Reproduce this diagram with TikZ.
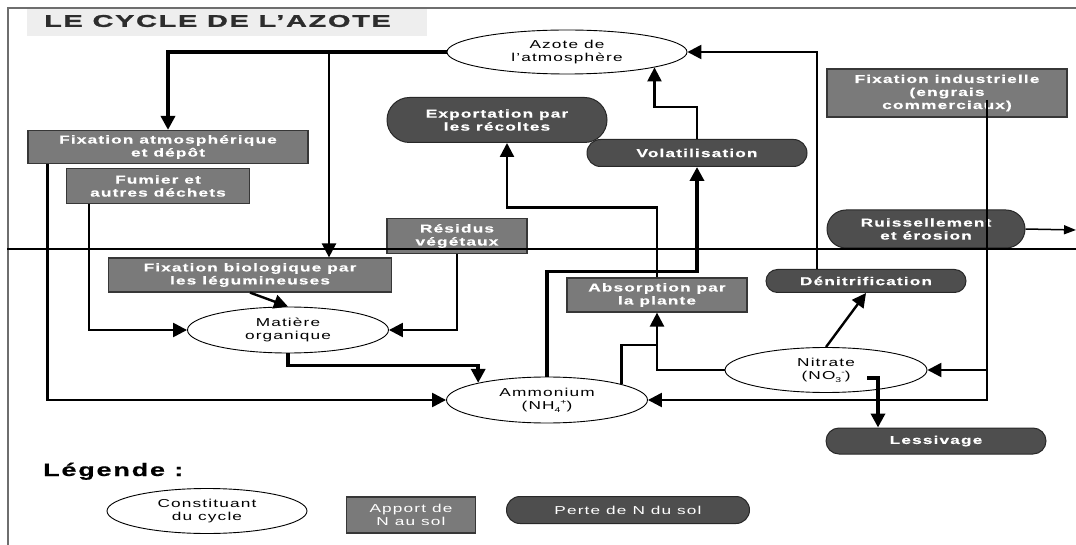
\documentclass[tikz,border=0pt]{standalone}
\usepackage{fontspec}
\setmainfont{Liberation Sans}[FakeStretch=1.5,LetterSpace=10,BoldFeatures={FakeBold=0.6}]
\newfontfamily\titlefont{Liberation Sans Bold}[FakeStretch=1.7,LetterSpace=10,FakeBold=1.5]
\usetikzlibrary{shapes.geometric,shapes.misc,arrows.meta,calc}
\definecolor{boxgray}{RGB}{122,122,122}
\definecolor{boxedge}{RGB}{55,55,55}
\definecolor{lossgray}{RGB}{78,78,78}
\definecolor{lossedge}{RGB}{40,40,40}
\definecolor{titlebg}{RGB}{238,238,238}
\definecolor{framegray}{RGB}{110,110,110}
\definecolor{titletext}{RGB}{45,45,45}
\newcommand\nf{\fontsize{11.5}{13}\selectfont}
\newcommand\nfb{\fontsize{11.5}{13}\selectfont\bfseries}
\newcommand\chem[2]{\raisebox{-0.45ex}{\fontsize{7}{7}\selectfont #1}\raisebox{0.85ex}{\fontsize{7}{7}\selectfont #2}}
\tikzset{
  ell/.style={ellipse, draw=black, line width=0.9pt, fill=white, inner sep=0pt, align=center, font=\nf},
  box/.style={rectangle, draw=boxedge, line width=1.2pt, fill=boxgray, text=white, inner sep=0pt, align=center, font=\nfb},
  loss/.style={rounded rectangle, draw=lossedge, line width=1pt, fill=lossgray, text=white, inner sep=0pt, align=center, font=\nfb},
  ln/.style={line width=2.4pt},
  thk/.style={line width=3.8pt},
  arr/.style={-{Triangle[length=14pt,width=14pt]}},
  sarr/.style={-{Triangle[length=12pt,width=9pt]}},
}
\begin{document}
\begin{tikzpicture}[x=1pt,y=-1pt]
\useasboundingbox (0,0) rectangle (1076,545);
% frame and title
\draw[framegray, line width=1.2pt] (8,545) -- (8,8) -- (1076,8);
\fill[titlebg] (27,9) rectangle (427,36);
\node[anchor=west, font=\titlefont\fontsize{17}{18}\selectfont, text=titletext, inner sep=0pt] (title) at (44,21) {LE CYCLE DE L’AZOTE};

% nodes
\node[ell, minimum width=240pt, minimum height=44pt] (azote) at (567,52) {Azote de\\l'atmosphère};
\node[loss, minimum width=220pt, minimum height=45pt] (export) at (497,120) {Exportation par\\les récoltes};
\node[loss, minimum width=220pt, minimum height=27pt] (volat) at (697,153) {Volatilisation};
\node[box, minimum width=240pt, minimum height=48pt] (fixind) at (947,93) {Fixation industrielle\\(engrais\\commerciaux)};
\node[box, minimum width=280pt, minimum height=33pt] (fixatm) at (168,147) {Fixation atmosphérique\\et dépôt};
\node[box, minimum width=183pt, minimum height=35pt] (fumier) at (158,186) {Fumier et\\autres déchets};
\node[box, minimum width=140pt, minimum height=35pt] (residus) at (457,236) {Résidus\\végétaux};
\node[box, minimum width=283pt, minimum height=34pt] (fixbio) at (250,275) {Fixation biologique par\\les légumineuses};
\node[ell, minimum width=201pt, minimum height=46pt] (matiere) at (288,330) {Matière\\organique};
\node[ell, minimum width=201pt, minimum height=46pt] (ammonium) at (547,400) {Ammonium\\(NH\chem{4}{+})};
\node[box, minimum width=180pt, minimum height=34pt] (absorb) at (657,295) {Absorption par\\la plante};
\node[loss, minimum width=198pt, minimum height=38pt] (ruiss) at (926,229) {Ruissellement\\et érosion};
\node[loss, minimum width=200pt, minimum height=23pt] (denit) at (866,281) {Dénitrification};
\node[ell, minimum width=202pt, minimum height=45pt] (nitrate) at (826,370) {Nitrate\\(NO\chem{3}{-})};
\node[loss, minimum width=220pt, minimum height=26pt] (lessiv) at (936,441) {Lessivage};

% legend
\node[anchor=base west, inner sep=0pt, font=\fontsize{18}{18}\selectfont\bfseries] (legende) at (43,476) {Légende :};
\node[ell, minimum width=200pt, minimum height=45pt] (leg1) at (207,511) {Constituant\\du cycle};
\node[box, font=\nf, minimum width=129pt, minimum height=36pt] (leg2) at (411,515) {Apport de\\N au sol};
\node[loss, font=\nf, minimum width=243pt, minimum height=27pt] (leg3) at (628,510) {Perte de N du sol};

% soil surface
\draw[line width=1.5pt] (7,249) -- (1076,249);

% connectors
\coordinate (j1) at (329,52);
\coordinate (j2) at (657,345);
\coordinate (j3) at (987,370);
\coordinate (out) at (1076,230);

\draw[thk, arr] (azote.west) -| (fixatm.north);
\draw[ln, arr] (j1) -- (j1 |- fixbio.north);
\draw[ln, arr] ($(fixatm.south west)+(20,0)$) |- (ammonium.west);
\draw[ln, arr] ($(fumier.south west)+(23,0)$) |- (matiere.west);
\draw[ln, arr] (fixbio.south) -- (matiere.north);
\draw[ln, arr] (residus.south) |- (matiere.east);
\draw[thk, arr] (matiere.south) -- ++(0,12) -| (ammonium.166);
\draw[thk, arr] (ammonium.north) -- ++(0,-105) -| (volat.south);
\draw[ln, arr] (absorb.north) -- ++(0,-70) -| ($(export.south)+(10,0)$);
\draw[ln, arr] (volat.north) -- ++(0,-32) -| (azote.-10);
\draw[ln, arr] (nitrate.west) -| (absorb.south);
\draw[ln] (ammonium.12) |- (j2);
\draw[ln, arr] ($(fixind.center)+(40,7)$) |- (ammonium.east);
\draw[ln, arr] (j3) -- (nitrate.east);
\draw[ln, arr] (nitrate.north) -- (denit.south);
\draw[ln, arr] ($(denit.north)+(-49,0)$) |- (azote.east);
\draw[thk, arr] ($(nitrate.center)+(41,8)$) -| ($(lessiv.north)+(-58,0)$);
\draw[line width=1.5pt, sarr] (ruiss.east) -- (out);
\end{tikzpicture}
\end{document}
